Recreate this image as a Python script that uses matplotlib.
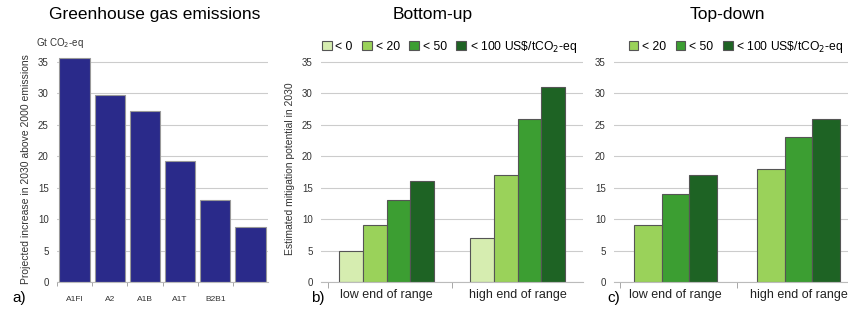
import matplotlib.pyplot as plt
import numpy as np

plt.rcParams['font.family'] = ['Liberation Sans', 'DejaVu Sans']

# panel a
scenarios = ["A1FI", "A2", "A1B", "A1T", "B2B1", ""]
emissions = [35.7, 29.8, 27.2, 19.3, 13.0, 8.7]

# panel b / c
groups = ["low end of range", "high end of range"]
bu_labels = ["< 0", "< 20", "< 50", "< 100 US\\$/tCO$_2$-eq"]
bu_low = [5, 9, 13, 16]
bu_high = [7, 17, 26, 31]
td_labels = ["< 20", "< 50", "< 100 US\\$/tCO$_2$-eq"]
td_low = [9, 14, 17]
td_high = [18, 23, 26]

greens = ["#d6edb0", "#9ad25a", "#3c9e32", "#1e6324"]
W, H = 848, 313


def fr(x0, x1):
    return [x0 / W, (H - 282) / H, (x1 - x0) / W, (282 - 55.7) / H]


def style(ax):
    ax.set_ylim(0, 36)
    ax.set_yticks(range(0, 36, 5))
    ax.grid(axis="y", color="#cccccc", lw=0.8)
    ax.set_axisbelow(True)
    for s in ["left", "right", "top"]:
        ax.spines[s].set_visible(False)
    ax.spines["bottom"].set_color("#bbbbbb")
    ax.tick_params(axis="y", length=0, labelsize=7, colors="#333333", pad=6)


fig = plt.figure(figsize=(8.48, 3.13), dpi=100)

# a)
ax = fig.add_axes(fr(57, 268))
x = np.arange(len(emissions))
ax.bar(x, emissions, width=0.86, color="#2a2a8a", edgecolor="#999999", lw=0.8)
ax.set_xlim(-0.5, 5.5)
style(ax)
ax.set_xticks(x - 0.5, minor=True)
ax.set_xticks(x)
ax.set_xticklabels(scenarios, fontsize=6, color="#333333")
ax.tick_params(axis="x", which="major", length=0, pad=10)
ax.tick_params(axis="x", which="minor", length=3, color="#999999")
ax.set_ylabel("Projected increase in 2030 above 2000 emissions", fontsize=7.5,
              color="#333333", labelpad=5)
fig.text(36 / W, 1 - 43 / H, "Gt CO$_2$-eq", fontsize=7, color="#333333", va="center")
fig.text(155 / W, 1 - 14 / H, "Greenhouse gas emissions", fontsize=12.5, ha="center", va="center")
fig.text(12 / W, 1 - 298 / H, "a)", fontsize=11, va="center")


def grouped(ax, low, high, labels, cols, bw):
    n = len(low)
    for i in range(n):
        off = (i - (n - 1) / 2) * bw
        ax.bar(np.arange(2) + off, [low[i], high[i]], width=bw, color=cols[i],
               edgecolor="#555555", lw=0.8, label=labels[i])
    ax.set_xlim(-0.5, 1.5)
    style(ax)
    ax.set_xticks([0, 1])
    ax.set_xticklabels(groups, fontsize=9, color="#222222")
    ax.set_xticks([-0.45, 0.5], minor=True)
    ax.tick_params(axis="x", which="major", length=0, pad=5)
    ax.tick_params(axis="x", which="minor", length=4, color="#999999")


leg_kw = dict(loc="center left", frameon=False, fontsize=8.7, handlelength=0.8,
              handleheight=0.8, handletextpad=0.3, columnspacing=0.8, borderaxespad=0)
leg_y = (282 - 47) / (282 - 55.7)

# b)
axb = fig.add_axes(fr(321, 583))
grouped(axb, bu_low, bu_high, bu_labels, greens, 0.18)
axb.set_ylabel("Estimated mitigation potential in 2030", fontsize=7.5, color="#333333", labelpad=5)
axb.legend(bbox_to_anchor=(-0.015, leg_y), ncol=4, **leg_kw)
fig.text(433 / W, 1 - 15 / H, "Bottom-up", fontsize=12.5, ha="center", va="center")
fig.text(311 / W, 1 - 298 / H, "b)", fontsize=11, va="center")

# c)
axc = fig.add_axes(fr(614, 860))
grouped(axc, td_low, td_high, td_labels, greens[1:], 0.225)
axc.legend(bbox_to_anchor=(0.04, leg_y), ncol=3, **leg_kw)
fig.text(727 / W, 1 - 14 / H, "Top-down", fontsize=12.5, ha="center", va="center")
fig.text(607 / W, 1 - 298 / H, "c)", fontsize=11, va="center")

fig.savefig("out.png", dpi=100)
